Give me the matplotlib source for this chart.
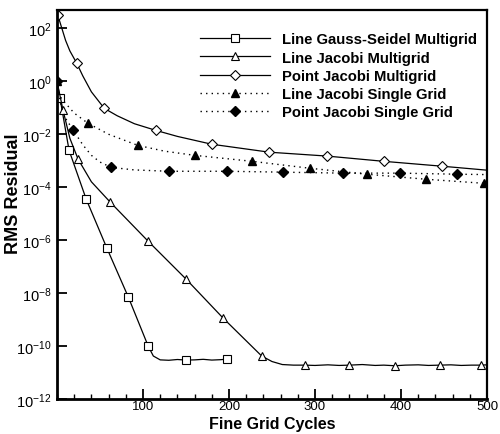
import matplotlib
matplotlib.use("Agg")
import numpy as np
import matplotlib.pyplot as plt
import matplotlib.ticker as mticker

plt.rcParams['font.family'] = ['Liberation Sans', 'DejaVu Sans']
plt.rcParams['mathtext.fontset'] = 'custom'
plt.rcParams['mathtext.rm'] = 'Liberation Sans'
plt.rcParams['mathtext.it'] = 'Liberation Sans:italic'
plt.rcParams['mathtext.bf'] = 'Liberation Sans:bold'

# residual histories (fine grid cycles vs RMS residual)
lgs_mg_x = [0, 3.5, 14, 34, 58, 83, 106, 112, 120, 130, 140, 150, 160, 170, 180, 190, 198]
lgs_mg_y = [1.0, 0.23, 2.5e-3, 3.5e-5, 5.0e-7, 7.0e-9, 1.0e-10, 4.2e-11, 3.0e-11,
            2.9e-11, 3.1e-11, 2.95e-11, 3.0e-11, 3.15e-11, 2.95e-11, 3.05e-11, 3.2e-11]
lgs_mg_marks = [1, 2, 3, 4, 5, 6, 11, 16]

lj_mg_x = [0, 7, 15, 24.5, 40, 62, 106, 150, 193, 238, 250, 262, 275, 288, 300, 315, 328,
           340, 355, 370, 380, 393, 405, 420, 432, 445, 458, 470, 482, 493, 500]
lj_mg_y = [1.0, 8.1e-2, 7.0e-3, 1.15e-3, 1.6e-4, 2.7e-5, 9.1e-7, 3.4e-8, 1.15e-9, 4.2e-11,
           2.6e-11, 2.0e-11, 1.9e-11, 1.9e-11, 1.85e-11, 1.95e-11, 1.85e-11, 1.9e-11, 2.0e-11,
           1.85e-11, 1.9e-11, 1.8e-11, 1.9e-11, 1.95e-11, 1.85e-11, 1.9e-11, 1.95e-11,
           1.85e-11, 1.9e-11, 1.9e-11, 1.95e-11]
lj_mg_marks = [1, 3, 5, 6, 7, 8, 9, 13, 17, 21, 25, 29]

pj_mg_x = [1, 10, 15, 23, 30, 40, 55, 70, 90, 115, 140, 180, 247, 314, 380, 448, 500]
pj_mg_y = [3.1e2, 35, 14, 4.8, 1.6, 0.4, 9.5e-2, 5.0e-2, 2.5e-2, 1.4e-2, 8.3e-3, 4.2e-3,
           2.1e-3, 1.5e-3, 9.5e-4, 6.2e-4, 4.4e-4]
pj_mg_marks = [0, 3, 6, 9, 11, 12, 13, 14, 15]

lj_sg_x = [0, 3, 9, 20, 36, 60, 94, 125, 160, 227, 294, 360, 429, 497, 500]
lj_sg_y = [1.0, 0.28, 0.16, 6.3e-2, 2.6e-2, 1.0e-2, 3.8e-3, 2.3e-3, 1.6e-3, 9.5e-4,
           5.2e-4, 3.1e-4, 2.0e-4, 1.4e-4, 1.38e-4]
lj_sg_marks = [0, 4, 6, 8, 9, 10, 11, 12, 13]

pj_sg_x = [0, 5, 10, 19, 30, 40, 50, 63, 90, 130, 198, 263, 332, 399, 465, 500]
pj_sg_y = [1.0, 0.1, 4.0e-2, 1.4e-2, 4.0e-3, 1.6e-3, 8.9e-4, 5.6e-4, 4.5e-4, 4.0e-4,
           4.0e-4, 3.7e-4, 3.4e-4, 3.4e-4, 3.1e-4, 3.0e-4]
pj_sg_marks = [0, 3, 7, 9, 10, 11, 12, 13, 14]

fig = plt.figure(figsize=(5.0, 4.35), dpi=100)
ax = fig.add_axes([0.114, 0.0805, 0.86, 0.8945])

dots = (0, (1, 3))
ax.plot(lgs_mg_x, lgs_mg_y, '-', color='k', lw=0.9, marker='s', ms=5.5,
        mfc='white', mec='k', mew=0.8, markevery=lgs_mg_marks,
        label='Line Gauss-Seidel Multigrid')
ax.plot(lj_mg_x, lj_mg_y, '-', color='k', lw=0.9, marker='^', ms=6,
        mfc='white', mec='k', mew=0.8, markevery=lj_mg_marks,
        label='Line Jacobi Multigrid')
ax.plot(pj_mg_x, pj_mg_y, '-', color='k', lw=0.9, marker='D', ms=5.5,
        mfc='white', mec='k', mew=0.8, markevery=pj_mg_marks,
        label='Point Jacobi Multigrid')
ax.plot(lj_sg_x, lj_sg_y, color='k', lw=1.0, ls=dots, marker='^', ms=5.5,
        mfc='k', mec='k', markevery=lj_sg_marks,
        label='Line Jacobi Single Grid')
ax.plot(pj_sg_x, pj_sg_y, color='k', lw=1.0, ls=dots, marker='D', ms=5,
        mfc='k', mec='k', markevery=pj_sg_marks,
        label='Point Jacobi Single Grid')

ax.set_yscale('log')
ax.set_xlim(0, 500)
ax.set_ylim(1e-12, 5e2)

ax.xaxis.set_major_locator(mticker.FixedLocator([100, 200, 300, 400, 500]))
ax.xaxis.set_minor_locator(mticker.MultipleLocator(20))
ax.yaxis.set_major_locator(mticker.FixedLocator([10.0**k for k in range(-12, 3, 2)]))
ax.yaxis.set_minor_locator(mticker.NullLocator())
ax.yaxis.set_major_formatter(mticker.FuncFormatter(
    lambda v, p: r'$10^{%d}$' % round(np.log10(v))))

ax.tick_params(which='both', direction='in', top=False, right=False)
ax.tick_params(which='major', length=7, width=1.3)
ax.tick_params(which='minor', length=3.5, width=1.0)
ax.tick_params(axis='x', pad=1, labelsize=9.5)
ax.tick_params(axis='y', pad=4, labelsize=10.5)

for side in ['left', 'bottom']:
    ax.spines[side].set_linewidth(2.0)
for side in ['top', 'right']:
    ax.spines[side].set_linewidth(1.6)

ax.set_xlabel('Fine Grid Cycles', fontsize=11.5, fontweight='bold')
ax.set_ylabel('RMS Residual', fontsize=13, fontweight='bold')
ax.xaxis.set_label_coords(0.5, -0.043)
ax.yaxis.set_label_coords(-0.082, 0.53)

leg = ax.legend(loc='upper left', bbox_to_anchor=(0.333, 0.942), frameon=False,
                prop={'weight': 'bold', 'size': 10.7}, handlelength=4.7,
                handletextpad=0.8, labelspacing=0.28, borderpad=0, borderaxespad=0)

fig.savefig('out.png', dpi=100)
